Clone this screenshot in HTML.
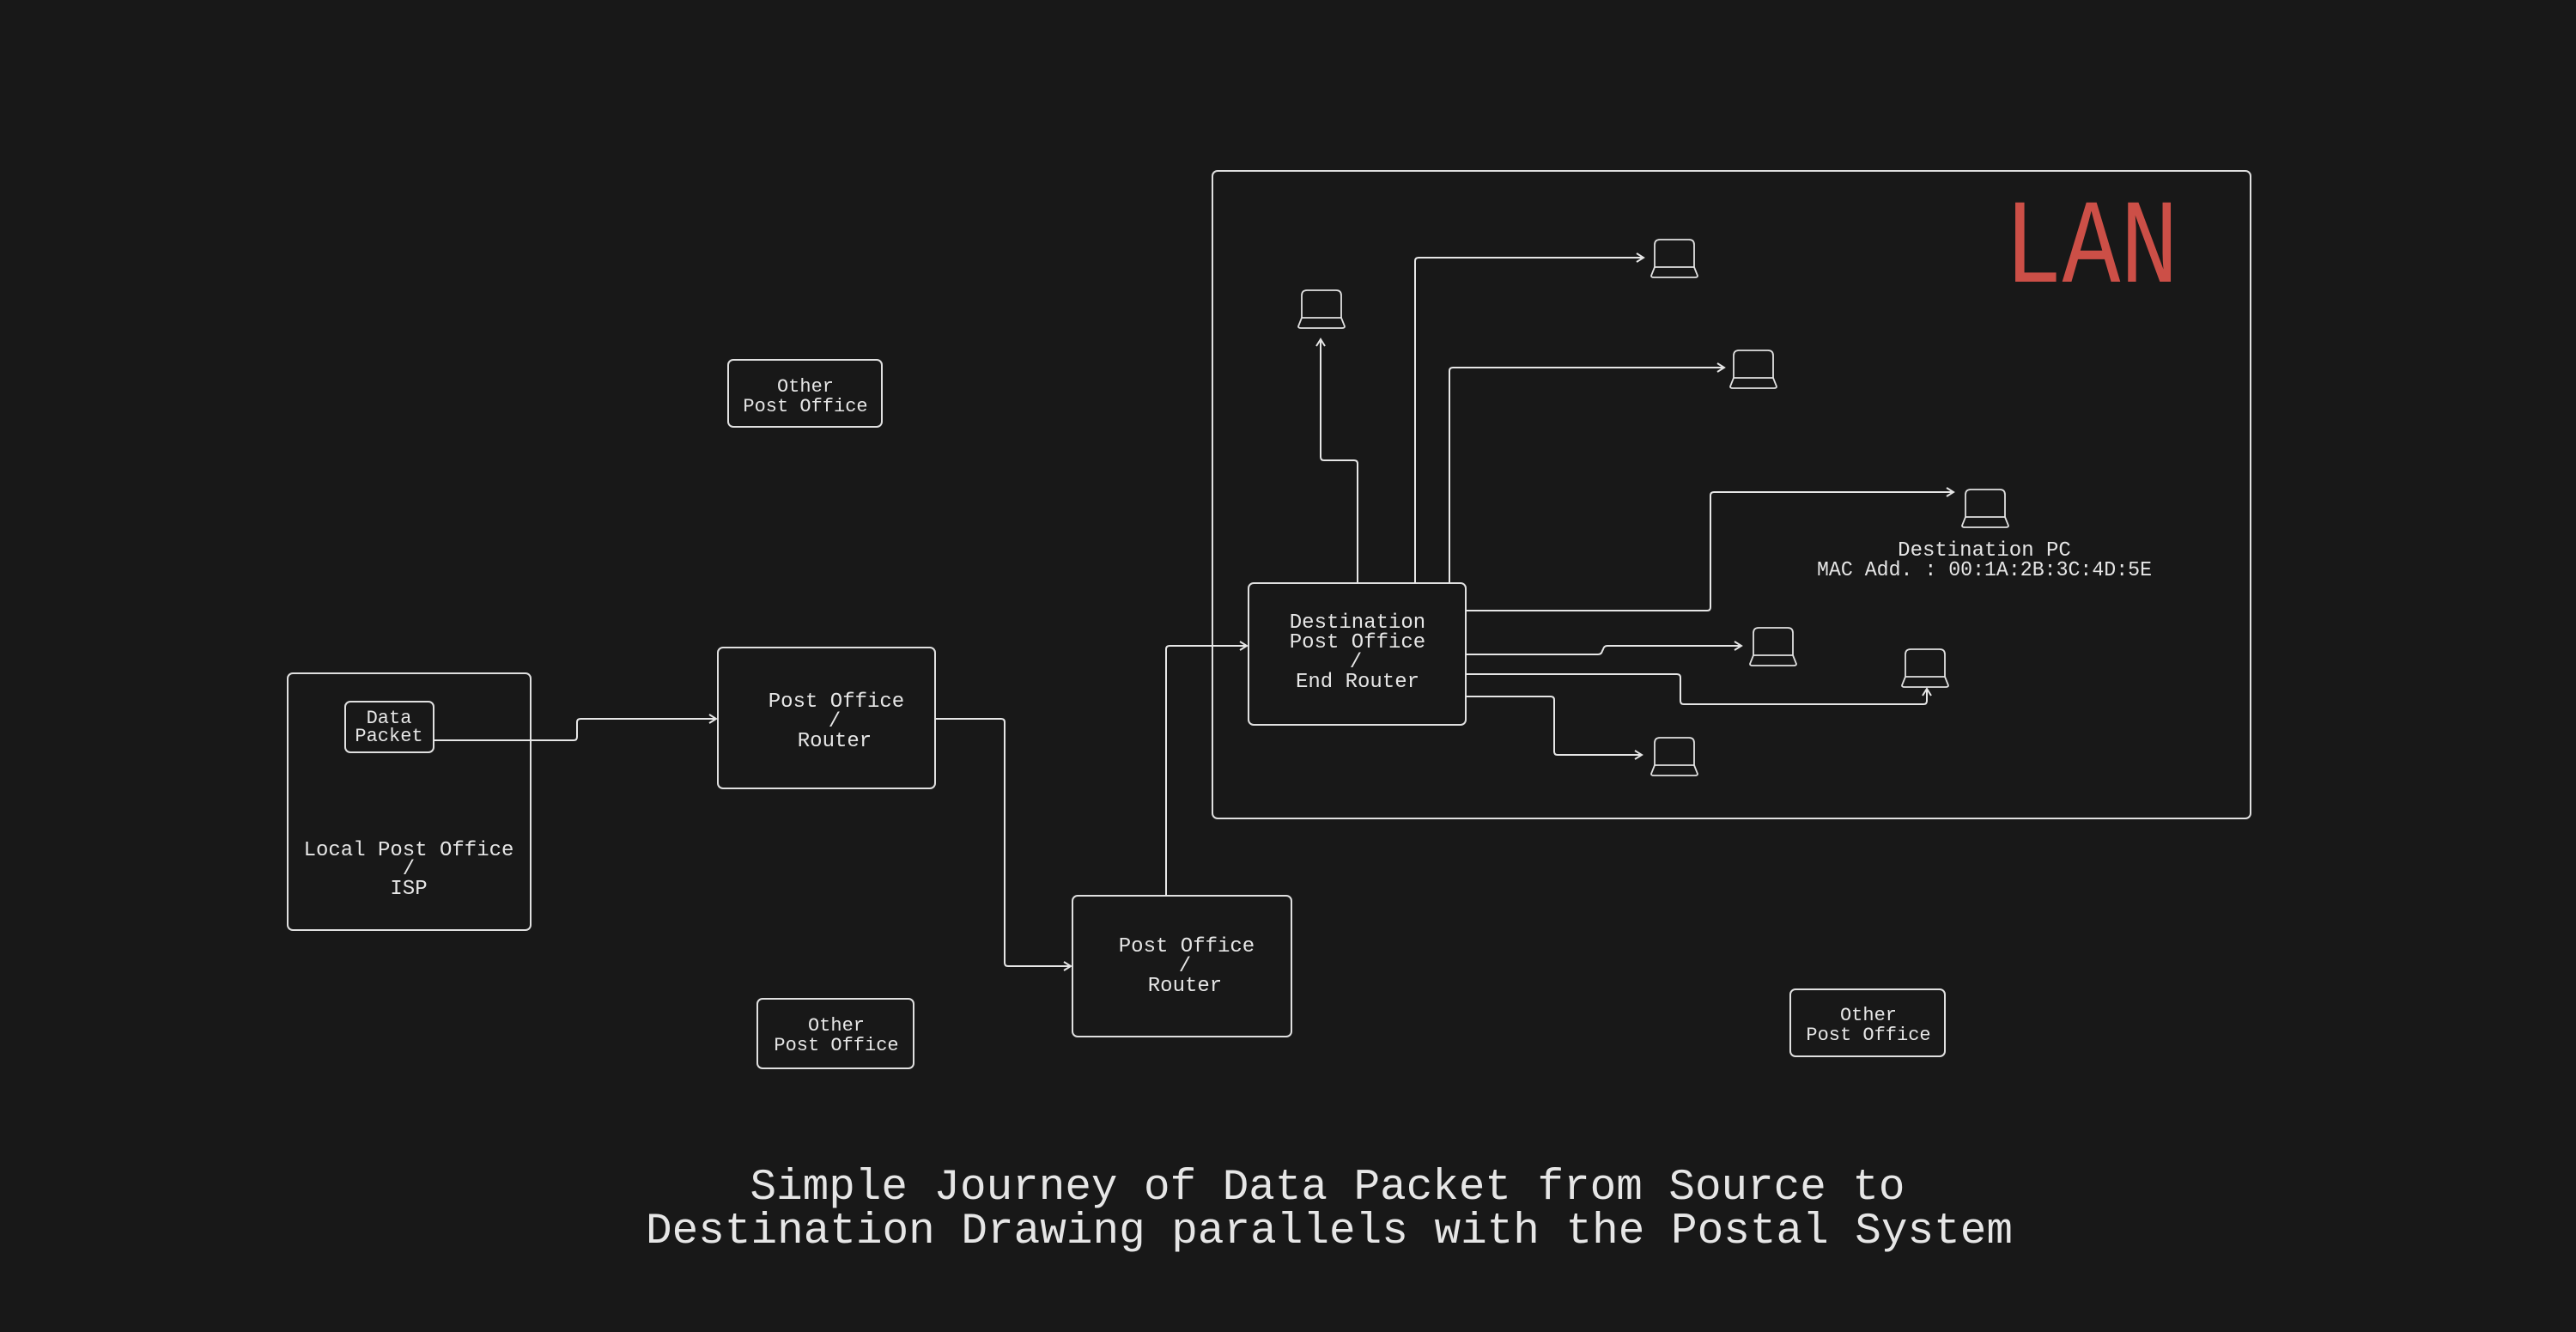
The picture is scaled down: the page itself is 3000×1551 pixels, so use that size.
<!DOCTYPE html>
<html><head><meta charset="utf-8"><style>
html,body{margin:0;padding:0;background:#181818;}
svg{display:block}
text{font-family:"Liberation Mono",monospace;fill:#e6e6e6;}
</style></head><body>
<svg width="3000" height="1551" viewBox="0 0 3000 1551" xmlns="http://www.w3.org/2000/svg">
<defs>
<marker id="a" markerWidth="14" markerHeight="14" refX="11" refY="7" orient="auto" markerUnits="userSpaceOnUse">
<path d="M3,2 L11,7 L3,12" fill="none" stroke="#e6e6e6" stroke-width="2"/>
</marker>
<g id="lap" fill="none" stroke="#e0e0e0" stroke-width="1.8">
<path d="M-23,32 V6 Q-23,0 -17,0 H17 Q23,0 23,6 V32 Z"/>
<path d="M-23,32 L-27,42 Q-27,44 -24,44 H24 Q27,44 27,42 L23,32"/>
</g>
</defs>
<rect width="3000" height="1551" fill="#181818"/>
<g fill="none" stroke="#e0e0e0" stroke-width="2">
<rect x="1412" y="199" width="1209" height="754" rx="6"/>
<rect x="335" y="784" width="283" height="299" rx="6"/>
<rect x="402" y="817" width="103" height="59" rx="6"/>
<rect x="836" y="754" width="253" height="164" rx="6"/>
<rect x="1249" y="1043" width="255" height="164" rx="6"/>
<rect x="848" y="419" width="179" height="78" rx="6"/>
<rect x="882" y="1163" width="182" height="81" rx="6"/>
<rect x="2085" y="1152" width="180" height="78" rx="6"/>
<rect x="1454" y="679" width="253" height="165" rx="6"/>
</g>
<g fill="none" stroke="#e6e6e6" stroke-width="2" marker-end="url(#a)">
<path d="M505,862 H668 Q672,862 672,858 V841 Q672,837 676,837 H834"/>
<path d="M1089,837 H1166 Q1170,837 1170,841 V1121 Q1170,1125 1174,1125 H1247"/>
<path d="M1358,1043 V756 Q1358,752 1362,752 H1452"/>
<path d="M1581,679 V540 Q1581,536 1577,536 H1542 Q1538,536 1538,532 V395"/>
<path d="M1648,679 V304 Q1648,300 1652,300 H1914"/>
<path d="M1688,679 V432 Q1688,428 1692,428 H2008"/>
<path d="M1707,711 H1988 Q1992,711 1992,707 V577 Q1992,573 1996,573 H2275"/>
<path d="M1707,762 H1861 Q1865,762 1866,758 L1867,756 Q1868,752 1872,752 H2028"/>
<path d="M1707,785 H1953 Q1957,785 1957,789 V816 Q1957,820 1961,820 H2240 Q2244,820 2244,816 V802"/>
<path d="M1707,811 H1806 Q1810,811 1810,815 V875 Q1810,879 1814,879 H1912"/>
</g>
<use href="#lap" x="1539" y="338"/>
<use href="#lap" x="1950" y="279"/>
<use href="#lap" x="2042" y="408"/>
<use href="#lap" x="2312" y="570"/>
<use href="#lap" x="2065" y="731"/>
<use href="#lap" x="2242" y="756"/>
<use href="#lap" x="1950" y="859"/>
<g text-anchor="middle" font-size="22">
<text x="453" y="842">Data</text>
<text x="453" y="863">Packet</text>
<text x="476" y="996" font-size="24">Local Post Office</text>
<text x="476" y="1018" font-size="24">/</text>
<text x="476" y="1041" font-size="24">ISP</text>
<text x="974" y="823" font-size="24">Post Office</text>
<text x="972" y="846" font-size="24">/</text>
<text x="972" y="869" font-size="24">Router</text>
<text x="1382" y="1108" font-size="24">Post Office</text>
<text x="1380" y="1131" font-size="24">/</text>
<text x="1380" y="1154" font-size="24">Router</text>
<text x="938" y="456">Other</text>
<text x="938" y="479">Post Office</text>
<text x="974" y="1200">Other</text>
<text x="974" y="1223">Post Office</text>
<text x="2176" y="1188">Other</text>
<text x="2176" y="1211">Post Office</text>
<text x="1581" y="731" font-size="24">Destination</text>
<text x="1581" y="754" font-size="24">Post Office</text>
<text x="1579" y="777" font-size="24">/</text>
<text x="1581" y="800" font-size="24">End Router</text>
<text x="2311" y="647" font-size="24">Destination PC</text>
<text x="2311" y="670" font-size="24" textLength="390" lengthAdjust="spacingAndGlyphs">MAC Add. : 00:1A:2B:3C:4D:5E</text>
<text x="1546" y="1396" font-size="51" textLength="1345" lengthAdjust="spacingAndGlyphs">Simple Journey of Data Packet from Source to</text>
<text x="1548" y="1447" font-size="51" textLength="1592" lengthAdjust="spacingAndGlyphs">Destination Drawing parallels with the Postal System</text>
</g>
<text x="2334" y="328" font-size="140" style="fill:#cc4f47" textLength="203" lengthAdjust="spacingAndGlyphs">LAN</text>
</svg>
</body></html>
